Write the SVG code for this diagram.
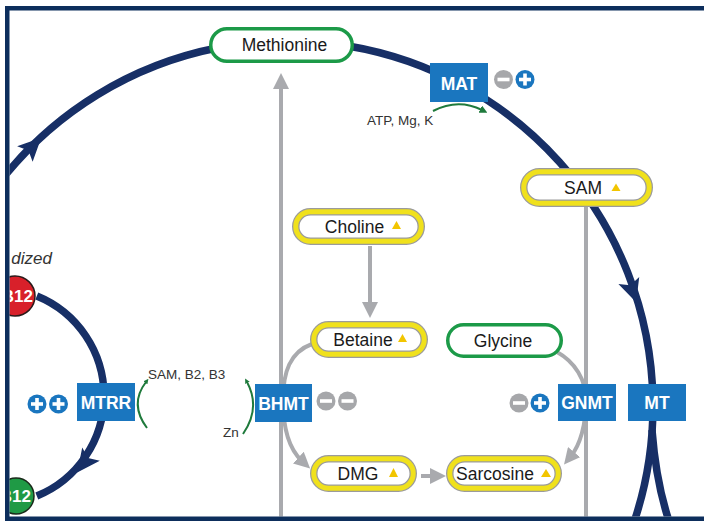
<svg xmlns="http://www.w3.org/2000/svg" xmlns:xlink="http://www.w3.org/1999/xlink" width="704" height="521" viewBox="0 0 704 521">
<defs>
<style>
text{font-family:"Liberation Sans",Arial,sans-serif;}
.lbl{font-size:17.5px;fill:#1a1a1a;text-anchor:middle;}
.box{fill:#1a76bf;}
.btxt{font-size:17.5px;font-weight:bold;fill:#ffffff;text-anchor:middle;}
.small{font-size:13.5px;fill:#333333;}
.dark{fill:none;stroke:#172f66;stroke-width:7.5;}
.gray{fill:none;stroke:#a9aaae;stroke-width:4;}
.grn{fill:none;stroke:#1f7a3c;stroke-width:2;}
.ypout{fill:#ffffff;stroke:#9b9b9b;stroke-width:7.5;}
.ypin{fill:none;stroke:#f0e11c;stroke-width:5;}
.gp{fill:#ffffff;stroke:#1c9a48;stroke-width:3.5;}
.tri{fill:#f2c500;}
.frame{fill:#0d2e5c;}
</style>
<clipPath id="inner"><rect x="9.5" y="10.5" width="694.5" height="506"/></clipPath>
<marker id="ga" markerUnits="userSpaceOnUse" viewBox="0 0 16 16" markerWidth="16" markerHeight="16" refX="5" refY="8" orient="auto"><path d="M0,0 L16,8 L0,16 Z" fill="#a9aaae"/></marker>
<marker id="gs" markerUnits="userSpaceOnUse" viewBox="0 0 8 8" markerWidth="8" markerHeight="8" refX="2" refY="4" orient="auto"><path d="M0,0 L8,4 L0,8 Z" fill="#1f7a3c"/></marker>
<marker id="gt" markerUnits="userSpaceOnUse" viewBox="0 0 5 5" markerWidth="5" markerHeight="5" refX="1" refY="2.5" orient="auto"><path d="M0,0 L5,2.5 L0,5 Z" fill="#1f7a3c"/></marker>
<path id="darr" d="M13,0 L-10,-11 L-5,0 L-10,11 Z" fill="#172f66"/>
<g id="plus"><circle r="9.5" fill="#1a76bf"/><rect x="-6" y="-1.8" width="12" height="3.6" fill="#fff"/><rect x="-1.8" y="-6" width="3.6" height="12" fill="#fff"/></g>
<g id="minus"><circle r="9.5" fill="#a6a7aa"/><rect x="-6" y="-1.8" width="12" height="3.6" fill="#fff"/></g>
</defs>
<rect width="704" height="521" fill="#ffffff"/>
<g clip-path="url(#inner)">
<g id="connectors">
<path class="dark" d="M 5 175.5 A 365 365 0 0 1 634.4 521"/>
<path class="dark" d="M 652 430 Q 656 482 669 521"/>
<path class="dark" stroke-width="6.5" d="M 36.8 296 A 108 108 0 0 1 36.8 496"/>
<use xlink:href="#darr" transform="translate(32,147) rotate(-44.7)"/>
<use xlink:href="#darr" transform="translate(632,290) rotate(71.4)"/>
<use xlink:href="#darr" transform="translate(85,462) rotate(127)"/>
<path class="gray" d="M 281 521 L 281 84" marker-end="url(#ga)"/>
<path class="gray" d="M 586 207 L 586 521" stroke-width="3"/>
<path class="gray" d="M 370 246 L 370 307" marker-end="url(#ga)"/>
<path class="gray" d="M 421 476 L 435 476" marker-end="url(#ga)"/>
<path class="gray" d="M 312 344 C 290 352 283 372 283 400 C 283 430 290 450 302 461" marker-end="url(#ga)"/>
<path class="gray" d="M 557 352 C 575 362 586 380 586 400 C 586 425 580 445 571 456" marker-end="url(#ga)"/>
<path class="grn" d="M 433 111 Q 458 98 482 110" marker-end="url(#gs)"/>
<path class="grn" d="M 147 428 Q 129 404 146 382" marker-end="url(#gt)"/>
<path class="grn" d="M 243 434 Q 261 408 247 382" marker-end="url(#gt)"/>
</g>
<g id="methionine"><rect class="gp" x="210.75" y="28.75" width="141.5" height="32.5" rx="16.25"/><text class="lbl" x="284.5" y="51">Methionine</text></g>
<g id="mat"><rect class="box" x="430" y="63" width="58" height="39"/><text class="btxt" x="459" y="89.5">MAT</text><use xlink:href="#minus" x="503.5" y="79.5"/><use xlink:href="#plus" x="525" y="79.5"/><text class="small" x="367" y="125">ATP, Mg, K</text></g>
<g id="sam"><rect class="ypout" x="523.75" y="171.75" width="125.5" height="31.5" rx="15.75"/><rect class="ypin" x="523.75" y="171.75" width="125.5" height="31.5" rx="15.75"/><text class="lbl" x="583" y="194">SAM</text><polygon class="tri" points="616,183.5 611.5,191 620.5,191"/></g>
<g id="choline"><rect class="ypout" x="295.75" y="211.75" width="125.5" height="29.5" rx="14.75"/><rect class="ypin" x="295.75" y="211.75" width="125.5" height="29.5" rx="14.75"/><text class="lbl" x="354.5" y="232.5">Choline</text><polygon class="tri" points="396.5,221 392,229 401,229"/></g>
<g id="betaine"><rect class="ypout" x="313.75" y="324.75" width="110.5" height="29.5" rx="14.75"/><rect class="ypin" x="313.75" y="324.75" width="110.5" height="29.5" rx="14.75"/><text class="lbl" x="363" y="345.5">Betaine</text><polygon class="tri" points="402.5,334 398,342 407,342"/></g>
<g id="glycine"><rect class="gp" x="447.75" y="324.75" width="113.5" height="31.5" rx="15.75"/><text class="lbl" x="503" y="346.5">Glycine</text></g>
<g id="dmg"><rect class="ypout" x="313.75" y="458.75" width="99.5" height="29.5" rx="14.75"/><rect class="ypin" x="313.75" y="458.75" width="99.5" height="29.5" rx="14.75"/><text class="lbl" x="358" y="479.5">DMG</text><polygon class="tri" points="393.5,468 389,477 398,477"/></g>
<g id="sarcosine"><rect class="ypout" x="449.75" y="458.75" width="108.5" height="29.5" rx="14.75"/><rect class="ypin" x="449.75" y="458.75" width="108.5" height="29.5" rx="14.75"/><text class="lbl" x="495" y="479.5">Sarcosine</text><polygon class="tri" points="546,469 541,477 551,477"/></g>
<g id="bhmt"><rect class="box" x="255" y="384" width="57" height="38"/><text class="btxt" x="283.5" y="409.5">BHMT</text><use xlink:href="#minus" x="326" y="401"/><use xlink:href="#minus" x="347.5" y="401"/><text class="small" x="223" y="437">Zn</text></g>
<g id="gnmt"><rect class="box" x="558" y="384" width="58" height="37"/><text class="btxt" x="587" y="409">GNMT</text><use xlink:href="#minus" x="519" y="403"/><use xlink:href="#plus" x="540" y="403"/></g>
<g id="mt"><rect class="box" x="628" y="384" width="58" height="37"/><text class="btxt" x="657" y="409">MT</text></g>
<g id="mtrr"><rect class="box" x="77" y="383" width="58" height="38"/><text class="btxt" x="106" y="408.5">MTRR</text><use xlink:href="#plus" x="37" y="404"/><use xlink:href="#plus" x="58.5" y="404"/><text class="small" x="148" y="379">SAM, B2, B3</text></g>
<g id="b12-oxidized"><circle cx="15" cy="296" r="20" fill="#d8202a" stroke="#2a1a1a" stroke-width="1.5"/><text x="33" y="302" font-size="17" font-weight="bold" fill="#fff" text-anchor="end">B12</text></g>
<g id="b12-reduced"><circle cx="16" cy="496" r="18" fill="#1f9a45" stroke="#1a2a1a" stroke-width="1.5"/><text x="31" y="502" font-size="17" font-weight="bold" fill="#fff" text-anchor="end">B12</text></g>
<text x="52" y="264" font-size="17" font-style="italic" fill="#333" text-anchor="end">dized</text>
</g>
<rect class="frame" x="5" y="6" width="699" height="4.5"/>
<rect class="frame" x="5" y="6" width="4.5" height="515"/>
<rect class="frame" x="5" y="516.5" width="699" height="4.5"/>
</svg>
